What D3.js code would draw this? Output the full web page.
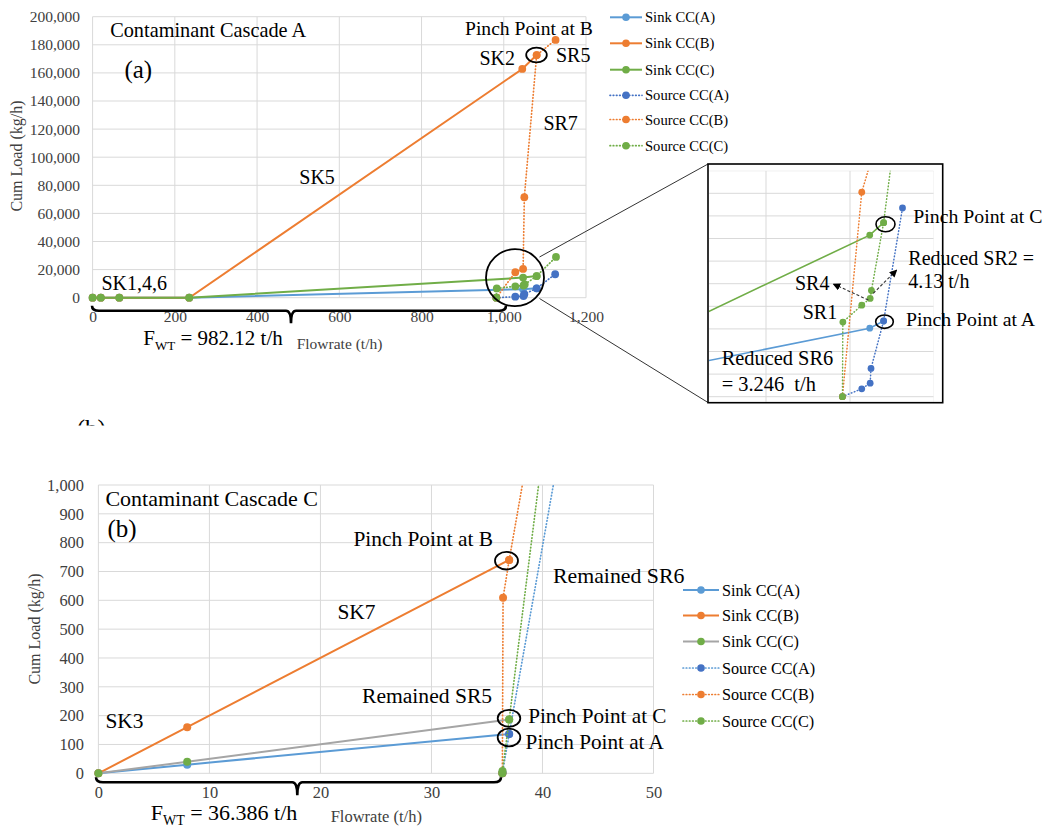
<!DOCTYPE html>
<html><head><meta charset="utf-8">
<script src="https://cdn.jsdelivr.net/npm/d3@7"></script>
<style>body{margin:0;background:#fff}svg{display:block}text{font-family:"Liberation Serif","Times New Roman",serif}</style>
</head><body>
<svg id="chart" width="1048" height="827"></svg>
<script>
// ---------- DATA ----------
const seriesNames = ["Sink CC(A)","Sink CC(B)","Sink CC(C)","Source CC(A)","Source CC(B)","Source CC(C)"];
// Panel (a): Contaminant Cascade A  [flowrate t/h, cum load kg/h]
const aSinkA   = [[0,0],[20,0],[65,0],[235,0],[1047,6060],[1080,6700]];
const aSinkB   = [[0,0],[20,0],[65,0],[235,0],[1045,162800],[1080,172700]];
const aSinkC   = [[0,0],[20,0],[65,0],[235,0],[1047,14300],[1080,15400]];
const aSourceA = [[982,0],[1028,700],[1048,1200],[1050,2500],[1080,6700],[1125,16700]];
const aSourceB = [[982,0],[1028,18100],[1047,20500],[1050,71500],[1080,172700],[1126,183500]];
const aSourceC = [[982,0],[983,6600],[1028,8100],[1048,8700],[1051,9400],[1080,15400],[1127,29000]];
const aXTicks = [0,200,400,600,800,1000,1200];
const aYTicks = [0,20000,40000,60000,80000,100000,120000,140000,160000,180000,200000];
const insetXTicks = [800,1000,1200];
const insetYTicks = [0,2000,4000,6000,8000,10000,12000,14000,16000,18000,20000];
// Panel (b): Contaminant Cascade C
const bSinkA   = [[0,0],[8,30],[37,136]];
const bSinkB   = [[0,0],[8,160],[37,740]];
const bSinkC   = [[0,0],[8,40],[37,187]];
const bSourceA = [[36.386,0],[36.4,3],[37,136],[41.9,1200]];
const bSourceB = [[36.386,0],[36.45,609],[37,740],[39.1,1200]];
const bSourceC = [[36.386,0],[36.4,8],[37,187],[40.3,1200]];
const bXTicks = [0,10,20,30,40,50];
const bYTicks = [0,100,200,300,400,500,600,700,800,900,1000];

// ---------- STYLE ----------
const LB="#5B9BD5", OR="#ED7D31", GR="#70AD47", DB="#4472C4", GY="#A5A5A5", GRID="#d9d9d9", TXT="#404040";
const DOTS="0.6,2.6";
const svg = d3.select("#chart");
const fmt = d3.format(",");

function grid(g, x, y, xt, yt){
  g.selectAll(".vg").data(xt).join("line").attr("x1",d=>x(d)).attr("x2",d=>x(d))
    .attr("y1",y.range()[0]).attr("y2",y.range()[1]).attr("stroke",GRID).attr("stroke-width",1);
  g.selectAll(".hg").data(yt).join("line").attr("y1",d=>y(d)).attr("y2",d=>y(d))
    .attr("x1",x.range()[0]).attr("x2",x.range()[1]).attr("stroke",GRID).attr("stroke-width",1);
}
function series(g, data, x, y, stroke, dotted, mk, r, lw){
  const line = d3.line().x(d=>x(d[0])).y(d=>y(d[1]));
  g.append("path").attr("d",line(data)).attr("fill","none").attr("stroke",stroke)
    .attr("stroke-width",lw).attr("stroke-dasharray",dotted?DOTS:null).attr("stroke-linecap",dotted?"round":"butt");
  g.selectAll(null).data(data).join("circle").attr("cx",d=>x(d[0])).attr("cy",d=>y(d[1])).attr("r",r).attr("fill",mk);
}
function txt(t,x,y,size,anchor){
  return svg.append("text").attr("x",x).attr("y",y).attr("font-size",size).attr("fill","#000")
    .attr("text-anchor",anchor||"start").text(t);
}
function brace(x1,x2,tip,y,depth){
  const p = `M${x1},${y-5} Q${x1},${y} ${x1+7},${y} H${tip-5} Q${tip},${y} ${tip},${y+depth}`+
            ` M${x2},${y-5} Q${x2},${y} ${x2-7},${y} H${tip+5} Q${tip},${y} ${tip},${y+depth}`;
  svg.append("path").attr("d",p).attr("fill","none").attr("stroke","#000").attr("stroke-width",2.6);
}
function fwt(x,y,size,sub,val){
  const t = svg.append("text").attr("x",x).attr("y",y).attr("font-size",size).attr("fill","#000");
  t.append("tspan").text("F");
  t.append("tspan").attr("dy",5).attr("font-size",sub).text("WT");
  t.append("tspan").attr("dy",-5).text(" = "+val);
}
function legend(x0,y0s,len,size,lineCols,mkCols,dots){
  seriesNames.forEach((n,i)=>{
    const y=y0s[i];
    svg.append("line").attr("x1",x0).attr("x2",x0+len).attr("y1",y).attr("y2",y).attr("stroke",lineCols[i])
      .attr("stroke-width",dots[i]?1.7:2).attr("stroke-dasharray",dots[i]?DOTS:null).attr("stroke-linecap",dots[i]?"round":"butt");
    svg.append("circle").attr("cx",x0+len/2).attr("cy",y).attr("r",3.8).attr("fill",mkCols[i]);
    svg.append("text").attr("x",x0+len+3).attr("y",y).attr("dy","0.35em").attr("font-size",size).attr("fill","#000").text(n);
  });
}

// ================= PANEL (a) =================
const ax = d3.scaleLinear().domain([0,1200]).range([92.6,586]);
const ay = d3.scaleLinear().domain([0,200000]).range([297.7,16.7]);
const ga = svg.append("g");
grid(ga, ax, ay, aXTicks, aYTicks);
ga.append("g").attr("transform","translate(0,297.7)")
  .call(d3.axisBottom(ax).tickValues(aXTicks).tickSize(0).tickPadding(13).tickFormat(fmt))
  .call(g=>{g.select(".domain").remove(); g.attr("font-family",null); g.selectAll("text").attr("font-size",15.5).attr("fill",TXT);});
ga.append("g").attr("transform","translate(92.6,0)")
  .call(d3.axisLeft(ay).tickValues(aYTicks).tickSize(0).tickPadding(12.6).tickFormat(fmt))
  .call(g=>{g.select(".domain").remove(); g.attr("font-family",null); g.selectAll("text").attr("font-size",15.5).attr("fill",TXT);});
series(ga,aSinkA,ax,ay,LB,false,LB,3.9,2);
series(ga,aSinkB,ax,ay,OR,false,OR,3.9,2);
series(ga,aSinkC,ax,ay,GR,false,GR,3.9,2);
series(ga,aSourceA,ax,ay,DB,true,DB,3.9,1.7);
series(ga,aSourceB,ax,ay,OR,true,OR,3.9,1.7);
series(ga,aSourceC,ax,ay,GR,true,GR,3.9,1.7);

svg.append("text").attr("transform","translate(16.7,156) rotate(-90)").attr("text-anchor","middle").attr("dy","0.35em")
  .attr("font-size",16).attr("fill",TXT).text("Cum Load (kg/h)");
svg.append("text").attr("x",296.7).attr("y",349).attr("font-size",15.5).attr("fill",TXT).text("Flowrate (t/h)");

txt("Contaminant Cascade A",110.2,37.3,20.3);
txt("(a)",124.4,78,25);
txt("Pinch Point at B",465,35,19.6);
txt("SK2",479.5,65,20);
txt("SR5",556,61.7,20);
txt("SR7",543.4,130,20);
txt("SK5",299.3,184,20);
txt("SK1,4,6",101.4,290,20);
svg.append("ellipse").attr("cx",536.5).attr("cy",55).attr("rx",10.3).attr("ry",7.3).attr("fill","none").attr("stroke","#000").attr("stroke-width",1.8);
svg.append("ellipse").attr("cx",515).attr("cy",277.7).attr("rx",29).attr("ry",28.5).attr("fill","none").attr("stroke","#000").attr("stroke-width",1.8);
svg.append("line").attr("x1",539.5).attr("y1",257).attr("x2",708).attr("y2",164).attr("stroke","#333").attr("stroke-width",1);
svg.append("line").attr("x1",539.5).attr("y1",298.5).attr("x2",708).attr("y2",402.5).attr("stroke","#333").attr("stroke-width",1);
brace(92,506,291,310.7,12.5);
fwt(143.3,345,21,13,"982.12 t/h");

legend(610,[17.3,43.3,69.7,95.3,119.5,145.7],32,14.6,[LB,OR,GR,DB,OR,GR],[LB,OR,GR,DB,OR,GR],[0,0,0,1,1,1]);

// ----- Inset -----
const ix = d3.scaleLinear().domain([800,1200]).range([766,934]);
const iy = d3.scaleLinear().domain([0,20000]).range([396.7,170.7]);
svg.append("rect").attr("x",708).attr("y",164).attr("width",234.7).attr("height",238.7).attr("fill","#fff");
const defs = svg.append("defs");
defs.append("clipPath").attr("id","insetClip").append("rect").attr("x",709).attr("y",170.7).attr("width",224.5).attr("height",231);
defs.append("clipPath").attr("id","bClip").append("rect").attr("x",88).attr("y",485).attr("width",575).attr("height",300);
defs.append("clipPath").attr("id","bLabelClip").append("rect").attr("x",0).attr("y",0).attr("width",300).attr("height",425.5);
const gi = svg.append("g").attr("clip-path","url(#insetClip)");
gi.selectAll(".ivg").data(insetXTicks).join("line").attr("x1",d=>ix(d)).attr("x2",d=>ix(d)).attr("y1",170.7).attr("y2",402).attr("stroke",GRID);
gi.selectAll(".ihg").data(insetYTicks).join("line").attr("y1",d=>iy(d)).attr("y2",d=>iy(d)).attr("x1",708).attr("x2",934).attr("stroke",GRID);
series(gi,aSinkA,ix,iy,LB,false,LB,3.4,1.6);
series(gi,aSinkB,ix,iy,OR,false,OR,3.4,1.6);
series(gi,aSinkC,ix,iy,GR,false,GR,3.4,1.6);
series(gi,aSourceA,ix,iy,DB,true,DB,3.4,1.5);
series(gi,aSourceB,ix,iy,OR,true,OR,3.4,1.5);
series(gi,aSourceC,ix,iy,GR,true,GR,3.4,1.5);
svg.append("rect").attr("x",708).attr("y",164).attr("width",234.7).attr("height",238.7).attr("fill","none").attr("stroke","#000").attr("stroke-width",1.6);
svg.append("ellipse").attr("cx",885.5).attr("cy",224.2).attr("rx",9.5).attr("ry",7.5).attr("fill","none").attr("stroke","#000").attr("stroke-width",1.6);
svg.append("ellipse").attr("cx",884.5).attr("cy",321.7).attr("rx",8.8).attr("ry",6.7).attr("fill","none").attr("stroke","#000").attr("stroke-width",1.6);
defs.append("marker").attr("id","arr").attr("viewBox","0 0 10 10").attr("refX",9).attr("refY",5)
  .attr("markerWidth",7).attr("markerHeight",7).attr("orient","auto")
  .append("path").attr("d","M0,0 L10,5 L0,10 Z").attr("fill","#000");
svg.append("line").attr("x1",868.3).attr("y1",300).attr("x2",833.3).attr("y2",284).attr("stroke","#333").attr("stroke-width",1.1).attr("stroke-dasharray","3,2").attr("marker-end","url(#arr)");
svg.append("line").attr("x1",873.3).attr("y1",293.3).attr("x2",896.7).attr("y2",270).attr("stroke","#333").attr("stroke-width",1.1).attr("stroke-dasharray","3,2").attr("marker-end","url(#arr)");
txt("Pinch Point at C",913.3,222.7,19.8);
txt("Reduced SR2 =",908.3,265,20);
txt("4.13 t/h",908.3,288.3,20);
txt("SR4",795,290,20);
txt("SR1",802.7,319.3,20);
txt("Pinch Point at A",906,326,19.8);
txt("Reduced SR6",721.7,365,20.4);
txt("= 3.246  t/h",721.7,390.7,20.4).style("white-space","pre");

// truncated "(b)" label
svg.append("text").attr("x",76.7).attr("y",437).attr("font-size",25).attr("clip-path","url(#bLabelClip)").text("(b)");

// ================= PANEL (b) =================
const bx = d3.scaleLinear().domain([0,50]).range([98.4,653.5]);
const by = d3.scaleLinear().domain([0,1000]).range([773.3,485]);
const gb = svg.append("g");
grid(gb, bx, by, bXTicks, bYTicks);
gb.append("g").attr("transform","translate(0,773.3)")
  .call(d3.axisBottom(bx).tickValues(bXTicks).tickSize(0).tickPadding(13).tickFormat(fmt))
  .call(g=>{g.select(".domain").remove(); g.attr("font-family",null); g.selectAll("text").attr("font-size",16.4).attr("fill",TXT);});
gb.append("g").attr("transform","translate(98.4,0)")
  .call(d3.axisLeft(by).tickValues(bYTicks).tickSize(0).tickPadding(14.4).tickFormat(fmt))
  .call(g=>{g.select(".domain").remove(); g.attr("font-family",null); g.selectAll("text").attr("font-size",16.4).attr("fill",TXT);});
const gbd = gb.append("g").attr("clip-path","url(#bClip)");
series(gbd,bSinkA,bx,by,LB,false,LB,4,2);
series(gbd,bSinkB,bx,by,OR,false,OR,4,2);
series(gbd,bSinkC,bx,by,GY,false,GR,4,2);
series(gbd,bSourceA,bx,by,LB,true,DB,4,1.7);
series(gbd,bSourceB,bx,by,OR,true,OR,4,1.7);
series(gbd,bSourceC,bx,by,GR,true,GR,4,1.7);

svg.append("text").attr("transform","translate(34.7,629) rotate(-90)").attr("text-anchor","middle").attr("dy","0.35em")
  .attr("font-size",16).attr("fill",TXT).text("Cum Load (kg/h)");
svg.append("text").attr("x",330.7).attr("y",821.5).attr("font-size",16.5).attr("fill",TXT).text("Flowrate (t/h)");

txt("Contaminant Cascade C",105.4,506,22);
txt("(b)",107.5,536.7,25);
txt("Pinch Point at B",353.4,546,21.4);
txt("SK7",337.4,619.3,21.4);
txt("Remained SR6",553,583.3,21.8);
txt("Remained SR5",362,702.7,21.6);
txt("SK3",105.4,728.3,21.4);
txt("Pinch Point at C",528.2,723.3,21.2);
txt("Pinch Point at A",525.6,749.3,21.2);
[[506.5,560.7,11.5,8.8],[509,718.3,11.3,8.5],[509,737.5,11.3,8.8]].forEach(e=>{
  svg.append("ellipse").attr("cx",e[0]).attr("cy",e[1]).attr("rx",e[2]).attr("ry",e[3]).attr("fill","none").attr("stroke","#000").attr("stroke-width",1.8);
});
brace(96,501,297.3,782.3,13);
fwt(150.7,820,22,14,"36.386 t/h");

legend(683,[590,615.5,641.5,668,694.5,721],36,16.2,[LB,OR,GY,LB,OR,GR],[LB,OR,GR,DB,OR,GR],[0,0,0,1,1,1]);
</script>
</body></html>
